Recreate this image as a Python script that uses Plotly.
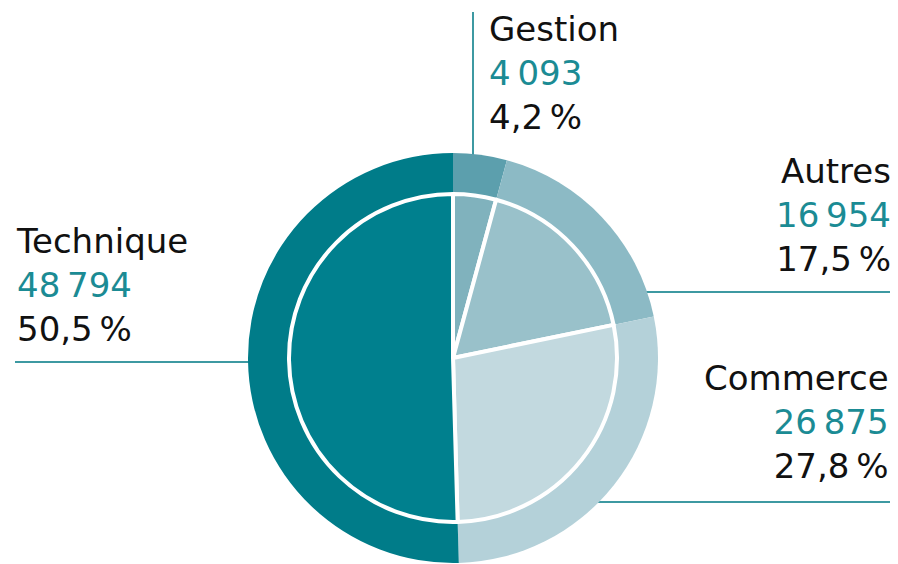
import plotly.graph_objects as go

categories = ["Gestion", "Autres", "Commerce", "Technique"]
values = [4093, 16954, 26875, 48794]
value_labels = ["4\u2009093", "16\u2009954", "26\u2009875", "48\u2009794"]
pct_labels = ["4,2\u202f%", "17,5\u202f%", "27,8\u202f%", "50,5\u202f%"]

outer_colors = ["#5c9fad", "#8cbac5", "#b4d1d9", "#007c89"]
inner_colors = ["#80b2bd", "#99c1ca", "#c2d9df", "#00808e"]

OFF = 8  # page body margin
W, H = 898 - OFF, 564 - OFF
cx, cy, R_out, R_in = 453 - OFF, 358 - OFF, 205, 164

def dom(r):
    return dict(x=[(cx - r) / W, (cx + r) / W],
                y=[1 - (cy + r) / H, 1 - (cy - r) / H])

fig = go.Figure()
fig.add_trace(go.Pie(labels=categories, values=values, sort=False,
                     direction="clockwise", rotation=0, textinfo="none",
                     hoverinfo="label+value+percent",
                     marker=dict(colors=outer_colors, line=dict(width=0)),
                     domain=dom(R_out), showlegend=False))
fig.add_trace(go.Pie(labels=categories, values=values, sort=False,
                     direction="clockwise", rotation=0, textinfo="none",
                     hoverinfo="label+value+percent",
                     marker=dict(colors=inner_colors, line=dict(width=4, color="white")),
                     domain=dom(R_in), showlegend=False))

teal = "#1b8b94"
line_col = "#3d99a2"
font = dict(family="DejaVu Sans", size=34, color="#111111")

def label_text(i):
    return f"{categories[i]}<br><span style='color:{teal}'>{value_labels[i]}</span><br>{pct_labels[i]}"

# label placement (screen pixel coords): x, y(middle), anchor
placements = {
    0: (487, 73, "left"),
    1: (893, 215, "right"),
    2: (891, 422, "right"),
    3: (14, 285, "left"),
}
for i, (x, y, anc) in placements.items():
    fig.add_annotation(x=x - OFF, y=y - OFF, xref="x", yref="y", text=label_text(i),
                       showarrow=False, xanchor=anc, yanchor="middle",
                       align=anc, font=font)

shapes = [
    dict(x0=473, x1=473, y0=12, y1=156),
    dict(x0=15, x1=250, y0=362, y1=362),
    dict(x0=645, x1=893, y0=292, y1=292),
    dict(x0=597, x1=893, y0=502, y1=502),
]
for s in shapes:
    fig.add_shape(type="line", xref="x", yref="y", line=dict(color=line_col, width=2),
                  layer="below",
                  x0=s["x0"] - OFF, x1=s["x1"] - OFF, y0=s["y0"] - OFF, y1=s["y1"] - OFF)

fig.update_layout(
    width=W, height=H, margin=dict(l=0, r=0, t=0, b=0),
    paper_bgcolor="white", plot_bgcolor="white",
    xaxis=dict(range=[0, W], visible=False, fixedrange=True),
    yaxis=dict(range=[H, 0], visible=False, fixedrange=True),
)
fig.write_html("out.html")
